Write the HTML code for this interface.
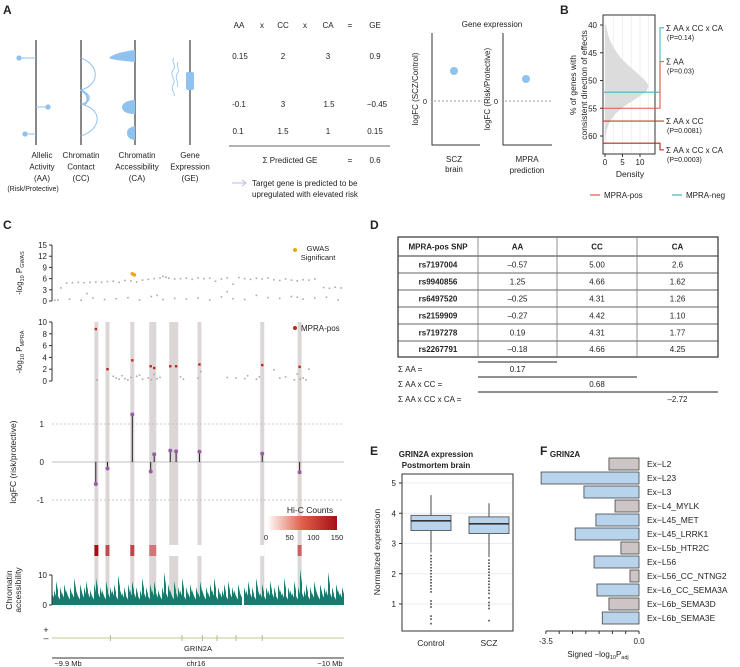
<!DOCTYPE html>
<html><head><meta charset="utf-8"><style>
html,body{margin:0;padding:0;background:#fff;}
svg{display:block;font-family:"Liberation Sans",sans-serif;}
text{fill:#222;}
</style></head><body>
<svg id="fig" width="740" height="667" viewBox="0 0 740 667" xmlns="http://www.w3.org/2000/svg">
<defs><linearGradient id="hicgrad" x1="0" x2="1" y1="0" y2="0"><stop offset="0" stop-color="#fff"/><stop offset="0.5" stop-color="#e0604a"/><stop offset="1" stop-color="#a50f15"/></linearGradient></defs>
<text x="3" y="14" font-size="12" font-weight="bold">A</text>
<text x="560" y="14" font-size="12" font-weight="bold">B</text>
<text x="3" y="229" font-size="12" font-weight="bold">C</text>
<text x="370" y="229" font-size="12" font-weight="bold">D</text>
<text x="370" y="455" font-size="12" font-weight="bold">E</text>
<text x="540" y="455" font-size="12" font-weight="bold">F</text>

<g stroke-width="1">
  <line x1="36" y1="40" x2="36" y2="145" stroke="#111"/>
  <line x1="19" y1="58" x2="36" y2="58" stroke="#8fc2ee"/>
  <circle cx="19" cy="58" r="2.6" fill="#8fc2ee"/>
  <line x1="36" y1="107" x2="48" y2="107" stroke="#8fc2ee"/>
  <circle cx="48" cy="107" r="2.6" fill="#8fc2ee"/>
  <line x1="25" y1="134" x2="36" y2="134" stroke="#8fc2ee"/>
  <circle cx="25" cy="134" r="2.6" fill="#8fc2ee"/>
  <line x1="81" y1="40" x2="81" y2="145" stroke="#111"/>
  <path d="M81 58 C100 65 100 85 81 90 C92 95 92 102 81 104 C105 110 100 130 81 136" fill="none" stroke="#8fc2ee"/>
  <path d="M81 90 C88 94 90 100 84 105" fill="none" stroke="#8fc2ee" stroke-width="2"/>
  <line x1="135" y1="40" x2="135" y2="145" stroke="#111"/>
  <path d="M135 50 L135 62 C125 61 112 60 109 58 C112 54 125 51 135 50Z" fill="#8fc2ee"/>
  <path d="M135 100 L135 114 C128 114 122 112 122 107 C122 103 128 100 135 100Z" fill="#8fc2ee"/>
  <path d="M135 126 L135 140 C130 140 127 137 127 133 C127 129 130 127 135 126Z" fill="#8fc2ee"/>
  <line x1="190" y1="40" x2="190" y2="145" stroke="#666" stroke-width="1.5"/>
  <rect x="186" y="72" width="8" height="18" rx="2" fill="#8fc2ee"/>
  <path d="M174 58 C170 62 178 66 173 70 C169 75 177 80 173 85 C170 90 176 93 174 96" fill="none" stroke="#8fc2ee" stroke-width="0.8"/>
  <path d="M178 62 C175 66 181 70 177 74 C174 79 180 83 177 87" fill="none" stroke="#8fc2ee" stroke-width="0.8"/>
</g>
<g font-size="8" text-anchor="middle">
  <text x="42" y="158"><tspan x="42">Allelic</tspan><tspan x="42" dy="11.5">Activity</tspan><tspan x="42" dy="11.5">(AA)</tspan><tspan x="33" dy="10" font-size="7">(Risk/Protective)</tspan></text>
  <text x="81" y="158"><tspan x="81">Chromatin</tspan><tspan x="81" dy="11.5">Contact</tspan><tspan x="81" dy="11.5">(CC)</tspan></text>
  <text x="137" y="158"><tspan x="137">Chromatin</tspan><tspan x="137" dy="11.5">Accessibility</tspan><tspan x="137" dy="11.5">(CA)</tspan></text>
  <text x="190" y="158"><tspan x="190">Gene</tspan><tspan x="190" dy="11.5">Expression</tspan><tspan x="190" dy="11.5">(GE)</tspan></text>
</g>
<g font-size="8" text-anchor="middle">
  <text x="239" y="28">AA</text>
  <text x="262" y="28">x</text>
  <text x="283" y="28">CC</text>
  <text x="305" y="28">x</text>
  <text x="328" y="28">CA</text>
  <text x="350" y="28">=</text>
  <text x="375" y="28">GE</text>
  <text x="240" y="59">0.15</text><text x="283" y="59">2</text><text x="328" y="59">3</text><text x="375" y="59">0.9</text>
  <text x="239" y="107">-0.1</text><text x="283" y="107">3</text><text x="329" y="107">1.5</text><text x="377" y="107">−0.45</text>
  <text x="238" y="134">0.1</text><text x="283" y="134">1.5</text><text x="328" y="134">1</text><text x="375" y="134">0.15</text>
  <line x1="229" y1="146" x2="390" y2="146" stroke="#666"/>
  <text x="290" y="163">Σ Predicted GE</text>
  <text x="350" y="163">=</text>
  <text x="375" y="163">0.6</text>
</g>
<line x1="232" y1="183" x2="245" y2="183" stroke="#b9bde6"/>
<path d="M242 180 L246 183 L242 186" fill="none" stroke="#b9bde6"/>
<text x="252" y="186" font-size="8"><tspan x="252">Target gene is predicted to be</tspan><tspan x="252" dy="11">upregulated with elevated risk</tspan></text>
<g>
  <text x="492" y="27" font-size="8" text-anchor="middle">Gene expression</text>
  <path d="M432 33 V145 H480" fill="none" stroke="#333"/>
  <line x1="434" y1="101" x2="480" y2="101" stroke="#999" stroke-dasharray="2,2"/>
  <text x="427" y="104" font-size="7.5" text-anchor="end">0</text>
  <circle cx="454" cy="71" r="4" fill="#8fc2ee"/>
  <text transform="translate(418,89) rotate(-90)" font-size="8" text-anchor="middle">logFC (SCZ/Control)</text>
  <text x="454" y="162" font-size="8" text-anchor="middle"><tspan x="454">SCZ</tspan><tspan x="454" dy="10">brain</tspan></text>
  <path d="M503 33 V145 H552" fill="none" stroke="#333"/>
  <line x1="505" y1="101" x2="552" y2="101" stroke="#999" stroke-dasharray="2,2"/>
  <text x="498" y="104" font-size="7.5" text-anchor="end">0</text>
  <circle cx="526" cy="79" r="4" fill="#8fc2ee"/>
  <text transform="translate(490,89) rotate(-90)" font-size="8" text-anchor="middle">logFC (Risk/Protective)</text>
  <text x="527" y="162" font-size="8" text-anchor="middle"><tspan x="527">MPRA</tspan><tspan x="527" dy="11">prediction</tspan></text>
</g>
<g id="panelB"></g>
<g id="panelC"></g>
<g id="panelD" font-size="8" text-anchor="middle"></g>
<g id="panelE"></g>
<g id="panelF"></g>
</svg>
<script>
const NS="http://www.w3.org/2000/svg";
function mk(parent,tag,attrs,txt){const e=document.createElementNS(NS,tag);for(const k in attrs)e.setAttribute(k,attrs[k]);if(txt!==undefined)e.textContent=txt;parent.appendChild(e);return e;}

const bDensityPct=[40,41,42,43,44,45,46,47,48,49,50,51,52,53,54,55,56,57,58,59,60,61,62];
const bDensityVal=[0.3,0.6,1.0,1.6,2.4,3.4,4.6,6.2,8.0,9.8,11.5,12.5,11.8,9.5,7.0,4.8,3.0,1.8,1.0,0.5,0.25,0.1,0.05];
const bYTicks=[40,45,50,55,60];
const bXTicks=[0,5,10];
const bStatNames=["Σ AA x CC x CA","Σ AA","Σ AA x CC","Σ AA x CC x CA"];
const bStatP=["(P=0.14)","(P=0.03)","(P=0.0081)","(P=0.0003)"];
const bStatValue=[52.1,55.0,57.3,61.3];
const bStatLabelPct=[40.5,46.6,57.3,62.5];
const bStatGroup=["neg","pos","pos","pos"];

const gwasPos=[1,3,5,7,9,11,13,15,17,19,21,23,25,27,29,31,33,35,37,38,39,40,42,44,46,48,50,52,54,56,58,60,62,64,66,68,70,72,74,76,78,80,82,84,86,88,90,93,95,97,99,
 2,6,10,14,18,22,26,30,34,38,42,46,50,54,58,62,66,70,74,78,82,86,90,94,98,12,36,60,84];
const gwasVal=[0.2,3.5,4.8,4.9,5.0,4.9,5.0,5.1,5.0,5.2,5.3,5.0,5.5,5.4,5.1,5.6,5.8,6.0,6.2,6.6,6.4,6.1,5.9,6.0,6.1,5.8,6.2,6.0,6.1,5.3,5.9,6.2,4.5,6.3,6.0,5.8,6.1,5.9,6.2,5.7,5.5,5.9,5.6,5.4,5.7,5.6,5.9,3.6,3.4,3.7,3.5,
 0.3,0.5,0.2,0.8,0.4,0.6,0.9,0.3,1.2,0.4,0.7,0.5,0.8,0.3,1.1,0.6,0.4,1.5,0.9,0.7,1.2,0.5,0.8,1.0,0.3,2.0,1.5,2.5,1.0];
const gwasSigPos=[27.5,28.2];
const gwasSigVal=[7.3,7.0];
const mpraBandPos=[15.2,19,27.5,34.5,41.7,50.5,72,84.8];
const mpraBandW=[4,4,4,7,9,4,4,4];
const mpraPosPos=[15,19,27.5,33.8,35,40.5,42.5,50.5,72,84.8];
const mpraPosVal=[8.8,2.0,3.5,2.5,2.2,2.5,2.5,2.8,2.7,2.4];
const mpraBgPos=[15.4,21,22,23,24,25,26,27,29,30,31,33,34,35,36,37,44,45,50,51,60,63,66,67,70,71,76,78,80,83,84,85,86,87,88];
const mpraBgVal=[0.2,0.8,0.5,0.3,0.9,0.4,0.2,0.6,0.8,1.0,0.3,0.5,0.2,1.1,0.4,0.6,0.7,0.3,0.5,1.6,0.6,0.5,0.4,0.9,0.3,0.7,1.9,0.5,0.7,0.2,1.2,0.3,0.5,0.2,2.0];
const logfcVal=[-0.58,-0.17,1.25,-0.25,0.2,0.3,0.28,0.27,0.22,-0.27];
const hicVal=[150,105,110,75,0,0,0,90];
const atacVal=[4,5,8,3,6,4,7,5,3,6,4,9,5,3,7,4,6,8,4,5,3,7,9,4,6,5,3,8,4,6,5,7,3,10,5,4,6,3,7,5,8,4,6,3,5,9,4,6,3,7,5,8,4,5,3,6,11,4,7,5,3,8,4,6,5,9,3,6,4,7,5,3,6,4,8,5,3,6,4,7,5,9,3,6,4,5,7,3,8,4,6,5,3,7,4,0,6,5,8,4,6,3,9,5,4,7,3,6,5,8,4,6,3,7,5,4,9,3,6,5,4,8,3,6,12,4,5,7,3,6,4,8,5,3,7,4,6,5,11,4,6,3,7,5,4,6];
const geneExonPos=[20,44.5,51.5,56.5,63,72];
const cYTicksGwas=[0,3,6,9,12,15];
const cYTicksMpra=[0,2,4,6,8,10];
const cYTicksFc=[-1,0,1];
const cYTicksAtac=[0,10];
const hicTicks=[0,50,100,150];

const dSnps=["rs7197004","rs9940856","rs6497520","rs2159909","rs7197278","rs2267791"];
const dAA=["–0.57","1.25","–0.25","–0.27","0.19","–0.18"];
const dCC=["5.00","4.66","4.31","4.42","4.31","4.66"];
const dCA=["2.6","1.62","1.26","1.10","1.77","4.25"];
const dSumLabels=["Σ AA =","Σ AA x CC =","Σ AA x CC x CA ="];
const dSumValues=["0.17","0.68","–2.72"];

const eGroups=["Control","SCZ"];
const eQ1=[3.43,3.33],eMed=[3.75,3.65],eQ3=[3.93,3.88],eWhiskTop=[4.6,4.33],eWhiskBot=[2.7,2.55];
const eOutliers=[[2.6,2.5,2.4,2.3,2.2,2.1,2.0,1.9,1.8,1.7,1.6,1.5,1.4,1.1,1.0,0.9,0.6,0.5,0.35],[2.45,2.35,2.25,2.15,2.05,1.95,1.85,1.75,1.65,1.55,1.45,1.35,1.2,1.05,0.95,0.85,0.45]];
const eYTicks=[1,2,3,4,5];

const fCells=["Ex−L2","Ex−L23","Ex−L3","Ex−L4_MYLK","Ex−L45_MET","Ex−L45_LRRK1","Ex−L5b_HTR2C","Ex−L56","Ex−L56_CC_NTNG2","Ex−L6_CC_SEMA3A","Ex−L6b_SEMA3D","Ex−L6b_SEMA3E"];
const fVals=[-1.13,-3.68,-2.07,-0.9,-1.62,-2.4,-0.68,-1.69,-0.34,-1.58,-1.13,-1.38];
const fSig=[false,true,true,false,true,true,false,true,false,true,false,true];
const fTicks=[-3.5,-3,-2.5,-2,-1.5,-1,-0.5,0];

(function(){
const g=document.getElementById('panelB');
const y=v=>25+(v-40)*5.55, x=v=>605+v*3.5;
let el;
for(const t of [0,2.5,5,7.5,10,12.5]){el=mk(g,'line',{x1:x(t),x2:x(t),y1:15,y2:154,stroke:'#e6e6e6','stroke-width':0.6});

}
let d='M'+x(0)+' '+y(bDensityPct[0]);
bDensityPct.forEach((p,i)=>{d+=' L'+x(bDensityVal[i])+' '+y(p);});
d+=' L'+x(0)+' '+y(bDensityPct[bDensityPct.length-1])+'Z';
el=mk(g,'path',{d:d,fill:'#dcdcdc'});


el=mk(g,'rect',{x:603,y:15,width:52,height:139,fill:'none',stroke:'#333'});


bYTicks.forEach(t=>{el=mk(g,'line',{x1:600,x2:603,y1:y(t),y2:y(t),stroke:'#333'});


el=mk(g,'text',{x:597,y:y(t)+3,'font-size':8,'text-anchor':'end'},t);

});
bXTicks.forEach(t=>{el=mk(g,'line',{x1:x(t),x2:x(t),y1:154,y2:157,stroke:'#333'});


el=mk(g,'text',{x:x(t),y:165,'font-size':8,'text-anchor':'middle'},t);

});
el=mk(g,'text',{x:630,y:177,'font-size':8.5,'text-anchor':'middle'},'Density');


el=mk(g,'text',{transform:'translate(576,85) rotate(-90)','font-size':8.5,'text-anchor':'middle'},'% of genes with');


el=mk(g,'text',{transform:'translate(587,85) rotate(-90)','font-size':8.5,'text-anchor':'middle'},'consistent direction of effects');


const cols=['#4bb3c4','#e05a47','#c63a2e','#b5261c'];
bStatValue.forEach((v,i)=>{
 const yy=y(v), ly=y(bStatLabelPct[i]), c=cols[i];
 el=mk(g,'path',{d:`M603 ${yy} H660 V${ly} H664`,fill:'none',stroke:c,'stroke-width':1.1});
 
 
 el=mk(g,'text',{x:666,y:ly+3,'font-size':8},bStatNames[i]);
 
 
 el=mk(g,'text',{x:667,y:ly+12,'font-size':7},bStatP[i]);
 
 
});
el=mk(g,'line',{x1:590,x2:600,y1:195,y2:195,stroke:'#e05a47','stroke-width':1.2});


el=mk(g,'text',{x:604,y:198,'font-size':8},'MPRA-pos');


el=mk(g,'line',{x1:672,x2:682,y1:195,y2:195,stroke:'#4bb3c4','stroke-width':1.2});


el=mk(g,'text',{x:686,y:198,'font-size':8},'MPRA-neg');


})();

(function(){
const g=document.getElementById('panelC');
const X0=52,X1=344, px=p=>X0+p/100*(X1-X0);
const yG=v=>301-v*3.73, yM=v=>381-v*5.9, yF=v=>462-v*38, yA=v=>605-v*3;
let el;
function axis(ticks,fy,lbls,name){
 el=mk(g,'line',{x1:X0,x2:X0,y1:fy(ticks[ticks.length-1]),y2:fy(ticks[0]),stroke:'#333'});
 
 
 ticks.forEach(t=>{el=mk(g,'line',{x1:X0-3,x2:X0,y1:fy(t),y2:fy(t),stroke:'#333'});
 
 
 el=mk(g,'text',{x:X0-5,y:fy(t)+3,'font-size':8,'text-anchor':'end'},t);
 
 });
}
mpraBandPos.forEach((p,i)=>{el=mk(g,'rect',{x:px(p)-mpraBandW[i]/2,y:322,width:mpraBandW[i],height:283,fill:'#dcd6d6'});

});
axis(cYTicksGwas,yG,null,'gwas');
gwasPos.forEach((p,i)=>{el=mk(g,'rect',{x:px(p)-0.8,y:yG(gwasVal[i])-0.8,width:1.6,height:1.6,fill:'#aaa'});

});
gwasSigPos.forEach((p,i)=>{el=mk(g,'circle',{cx:px(p),cy:yG(gwasSigVal[i]),r:1.8,fill:'#f2a316'});

});
el=mk(g,'text',{transform:'translate(22,273) rotate(-90)','font-size':8,'text-anchor':'middle'});
el.innerHTML='-log<tspan font-size="5.5" dy="2">10</tspan><tspan dy="-2"> P</tspan><tspan font-size="5.5" dy="2">GWAS</tspan>';


el=mk(g,'circle',{cx:295,cy:250,r:2,fill:'#f2a316'});


el=mk(g,'text',{x:318,y:251,'font-size':7.5,'text-anchor':'middle'});
el.innerHTML='<tspan x="318">GWAS</tspan><tspan x="318" dy="9">Significant</tspan>';


axis(cYTicksMpra,yM,null,'mpra');
mpraBgPos.forEach((p,i)=>{el=mk(g,'rect',{x:px(p)-0.8,y:yM(mpraBgVal[i])-0.8,width:1.6,height:1.6,fill:'#aaa'});

});
mpraPosPos.forEach((p,i)=>{el=mk(g,'rect',{x:px(p)-1.2,y:yM(mpraPosVal[i])-1.2,width:2.4,height:2.4,fill:'#c0281c'});

});
el=mk(g,'text',{transform:'translate(22,352) rotate(-90)','font-size':8,'text-anchor':'middle'});
el.innerHTML='-log<tspan font-size="5.5" dy="2">10</tspan><tspan dy="-2"> P</tspan><tspan font-size="5.5" dy="2">MPRA</tspan>';


el=mk(g,'circle',{cx:295,cy:328,r:2,fill:'#c0281c'});


el=mk(g,'text',{x:301,y:331,'font-size':8},'MPRA-pos');


cYTicksFc.forEach(t=>{el=mk(g,'line',{x1:X0,x2:X1,y1:yF(t),y2:yF(t),stroke:t===0?'#aaa':'#bbb','stroke-dasharray':t===0?'':'2,2','stroke-width':0.8});


el=mk(g,'text',{x:44,y:yF(t)+3,'font-size':8,'text-anchor':'end'},t);

});
logfcVal.forEach((v,i)=>{const xx=px(mpraPosPos[i]);
el=mk(g,'line',{x1:xx,x2:xx,y1:yF(0),y2:yF(v),stroke:'#222','stroke-width':1});


el=mk(g,'circle',{cx:xx,cy:yF(v),r:2,fill:'#9a5ca8'});

});
el=mk(g,'text',{transform:'translate(16,462) rotate(-90)','font-size':8.5,'text-anchor':'middle'},'logFC (risk/protective)');


const hicColor=v=>{const t=v/150;const r=Math.round(255-(255-165)*t),gg=Math.round(255-(255-15)*Math.pow(t,0.8)),b=Math.round(255-(255-21)*Math.pow(t,0.8));return `rgb(${r},${gg},${b})`;};
el=mk(g,'rect',{x:267,y:516,width:70,height:14,fill:'url(#hicgrad)'});


el=mk(g,'text',{x:310,y:513,'font-size':8.5,'text-anchor':'middle'},'Hi-C Counts');


hicTicks.forEach(t=>{el=mk(g,'text',{x:266+t/150*71,y:540,'font-size':7.5,'text-anchor':'middle'},t);

});
hicVal.forEach((v,i)=>{el=mk(g,'rect',{x:px(mpraBandPos[i])-mpraBandW[i]/2,y:545,width:mpraBandW[i],height:11,fill:hicColor(v)});

});
let ad='M'+X0+' '+yA(0);
const step=(X1-X0)/atacVal.length;
atacVal.forEach((v,i)=>{ad+=' L'+(X0+i*step)+' '+yA(v)+' L'+(X0+(i+1)*step)+' '+yA(v*0.6);});
ad+=' L'+X1+' '+yA(0)+'Z';
el=mk(g,'path',{d:ad,fill:'#1b7a70'});


axis(cYTicksAtac,yA,null,'atac');
el=mk(g,'text',{transform:'translate(12,590) rotate(-90)','font-size':8.5,'text-anchor':'middle'});
el.innerHTML='<tspan x="0">Chromatin</tspan><tspan x="0" dy="9">accessibility</tspan>';


el=mk(g,'text',{x:46,y:633,'font-size':9,fill:'#4a8ad6','text-anchor':'middle'},'+');


el=mk(g,'text',{x:46,y:641,'font-size':9,fill:'#b8bb80','text-anchor':'middle'},'–');


el=mk(g,'line',{x1:X0,x2:X1,y1:638,y2:638,stroke:'#c6c98f','stroke-width':1});


geneExonPos.forEach(p=>{el=mk(g,'line',{x1:px(p),x2:px(p),y1:635,y2:641,stroke:'#b8bb80','stroke-width':1});

});
el=mk(g,'text',{x:198,y:651,'font-size':7.5,fill:'#c6c98f','text-anchor':'middle'},'GRIN2A');


el=mk(g,'line',{x1:X0,x2:X1,y1:658,y2:658,stroke:'#333'});


[['~9.9 Mb',68],['chr16',196],['~10 Mb',330]].forEach(([t,xx])=>{el=mk(g,'text',{x:xx,y:666,'font-size':7.5,'text-anchor':'middle'},t);

});
})();

(function(){
const g=document.getElementById('panelD');
const cx=[398,478,557,637,718], rows=[237,256,273,290,307,324,341,357];
let el;
el=mk(g,'rect',{x:398,y:237,width:320,height:120,fill:'none',stroke:'#333','stroke-width':1.2});


for(let i=1;i<rows.length-1;i++){el=mk(g,'line',{x1:398,x2:718,y1:rows[i],y2:rows[i],stroke:'#333','stroke-width':i===1?1.1:0.8});

}
for(let i=1;i<4;i++){el=mk(g,'line',{x1:cx[i],x2:cx[i],y1:237,y2:357,stroke:'#777','stroke-width':0.8});

}
const hdr=['MPRA-pos SNP','AA','CC','CA'];
hdr.forEach((h,i)=>{el=mk(g,'text',{x:(cx[i]+cx[i+1])/2,y:249.5,'font-weight':'bold'},h);

});
dSnps.forEach((s,r)=>{const yy=(rows[r+1]+rows[r+2])/2+3;
[s,dAA[r],dCC[r],dCA[r]].forEach((v,i)=>{el=mk(g,'text',{x:(cx[i]+cx[i+1])/2,y:yy,'font-weight':i===0?'bold':'normal'},v);

});});
dSumLabels.forEach((l,i)=>{const yy=370+i*15;
el=mk(g,'line',{x1:478,x2:cx[i+2],y1:yy-8,y2:yy-8,stroke:'#222','stroke-width':0.9});


el=mk(g,'text',{x:398,y:yy+2,'text-anchor':'start'},l);


el=mk(g,'text',{x:(cx[i+1]+cx[i+2])/2,y:yy+2},dSumValues[i]);

});
})();

(function(){
const g=document.getElementById('panelE');
const y=v=>604-(v-1)*30.25, cxs=[431,489];
let el;
el=mk(g,'text',{x:436,y:457,'font-size':8,'font-weight':'bold','text-anchor':'middle'},'GRIN2A expression');


el=mk(g,'text',{x:436,y:468,'font-size':8,'font-weight':'bold','text-anchor':'middle'},'Postmortem brain');


eYTicks.forEach(t=>{el=mk(g,'line',{x1:402,x2:513,y1:y(t),y2:y(t),stroke:'#ececec'});


el=mk(g,'line',{x1:399,x2:402,y1:y(t),y2:y(t),stroke:'#333'});


el=mk(g,'text',{x:396,y:y(t)+3,'font-size':8,'text-anchor':'end'},t);

});
eGroups.forEach((gr,i)=>{const c=cxs[i];
el=mk(g,'line',{x1:c,x2:c,y1:y(eWhiskTop[i]),y2:y(eWhiskBot[i]),stroke:'#666','stroke-width':1.2});


eOutliers[i].forEach(v=>{el=mk(g,'rect',{x:c-0.8,y:y(v)-0.8,width:1.6,height:1.6,fill:'#444'});

});
el=mk(g,'rect',{x:c-20,y:y(eQ3[i]),width:40,height:y(eQ1[i])-y(eQ3[i]),fill:'#b8d4ec',stroke:'#555','stroke-width':0.9});


el=mk(g,'line',{x1:c-20,x2:c+20,y1:y(eMed[i]),y2:y(eMed[i]),stroke:'#333','stroke-width':1.6});


el=mk(g,'text',{x:c,y:646,'font-size':8.5,'text-anchor':'middle'},gr);

});
el=mk(g,'rect',{x:402,y:474,width:111,height:157,fill:'none',stroke:'#333'});


el=mk(g,'text',{transform:'translate(380,552) rotate(-90)','font-size':8.5,'text-anchor':'middle'},'Normalized expression');


})();

(function(){
const g=document.getElementById('panelF');
const x=v=>639+v*26.6, yc=i=>464+i*14.0;
let el;
el=mk(g,'text',{x:565,y:457,'font-size':8,'font-weight':'bold','text-anchor':'middle'},'GRIN2A');


fCells.forEach((c,i)=>{const v=fVals[i];
el=mk(g,'rect',{x:x(v),y:yc(i)-6,width:x(0)-x(v),height:12,fill:fSig[i]?'#b8d4ec':'#cdc5c5',stroke:'#444','stroke-width':0.8});


el=mk(g,'text',{x:647,y:yc(i)+3,'font-size':8.5},c);

});
el=mk(g,'line',{x1:x(-3.5),x2:x(0),y1:631,y2:631,stroke:'#333'});


fTicks.forEach(t=>{el=mk(g,'line',{x1:x(t),x2:x(t),y1:631,y2:634,stroke:'#333'});

});
[[-3.5,'-3.5'],[0,'0.0']].forEach(([t,l])=>{el=mk(g,'text',{x:x(t),y:644,'font-size':8,'text-anchor':'middle'},l);

});
el=mk(g,'text',{x:598,y:657,'font-size':8,'text-anchor':'middle'});
el.innerHTML='Signed  −log<tspan font-size="5.5" dy="2">10</tspan><tspan dy="-2">P</tspan><tspan font-size="5.5" dy="2">adj</tspan>';


})();
</script>
</body></html>
